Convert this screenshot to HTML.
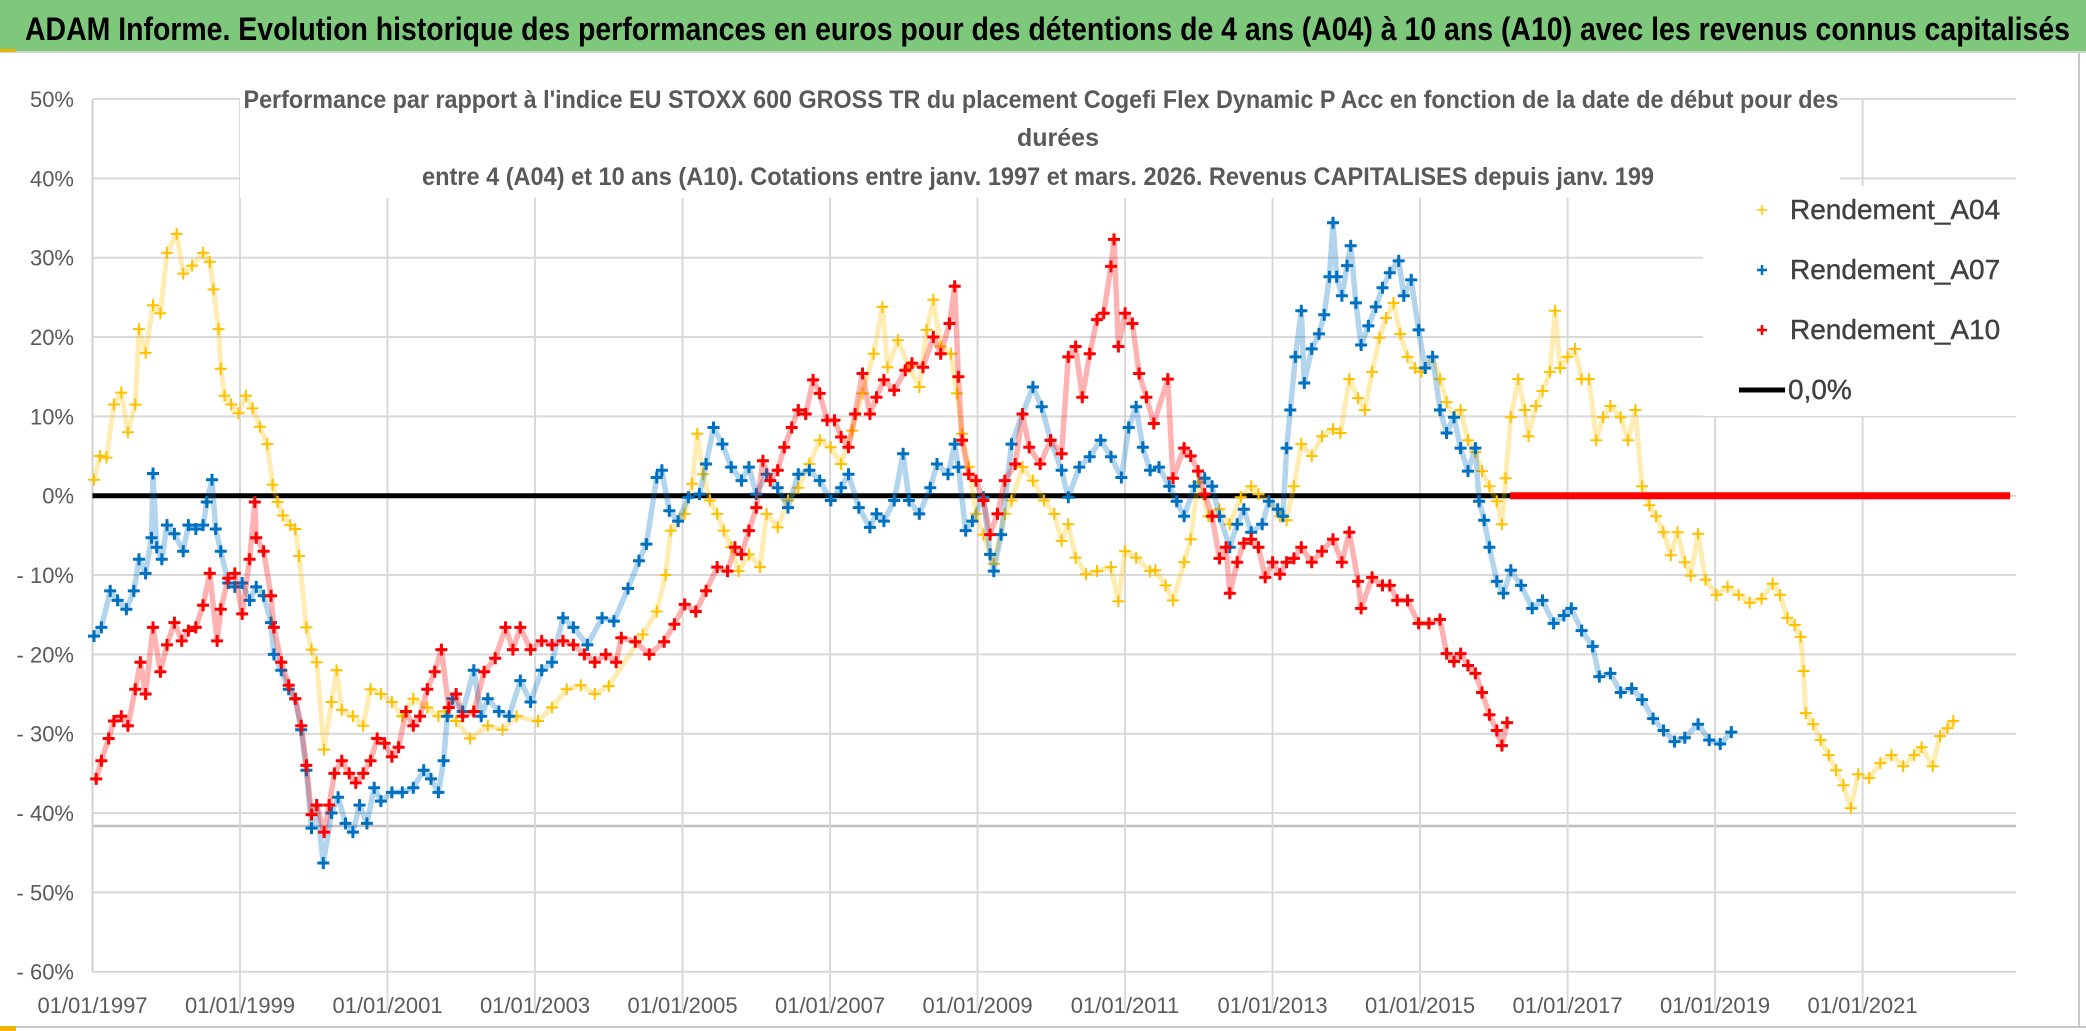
<!DOCTYPE html>
<html><head><meta charset="utf-8"><style>
html,body{margin:0;padding:0;background:#fff;}
svg{display:block;font-family:"Liberation Sans Narrow","Liberation Sans",sans-serif;}
</style></head><body>
<svg id="chart" width="2086" height="1031" viewBox="0 0 2086 1031" xmlns="http://www.w3.org/2000/svg">
<rect x="0" y="0" width="2086" height="1031" fill="#fff"/>
<rect x="0" y="0" width="2086" height="51" fill="#7dc87b"/>
<line x1="0" y1="52" x2="2086" y2="52" stroke="#d0d0d0" stroke-width="2"/>
<rect x="0" y="49" width="16" height="3" fill="#f0b400"/>
<text x="25" y="40" font-size="32" font-weight="bold" fill="#000" textLength="2045" lengthAdjust="spacingAndGlyphs">ADAM Informe. Evolution historique des performances en euros pour des détentions de 4 ans (A04) à 10 ans (A10) avec les revenus connus capitalisés</text>
<g id="grid"></g>
<g id="yaxis"></g>
<g id="xaxis"></g>
<rect x="240" y="62" width="1600" height="136" fill="#fff"/>
<text x="1041" y="108" font-size="25" font-weight="bold" fill="#595959" text-anchor="middle" textLength="1595" lengthAdjust="spacingAndGlyphs">Performance par rapport à l'indice EU STOXX 600 GROSS TR  du placement Cogefi Flex Dynamic P Acc en fonction de la date de début pour des</text>
<text x="1058" y="146" font-size="25" font-weight="bold" fill="#595959" text-anchor="middle">durées</text>
<text x="1038" y="185" font-size="25" font-weight="bold" fill="#595959" text-anchor="middle" textLength="1232" lengthAdjust="spacingAndGlyphs">entre 4 (A04) et 10 ans (A10). Cotations entre janv. 1997 et mars. 2026. Revenus CAPITALISES depuis janv. 199</text>
<g id="series"></g>
<g>
<rect x="1703" y="186" width="313" height="230" fill="#fff"/>
<g><path d="M1757 210h10M1762 205v10" stroke="#ffc000" stroke-width="1.5"/><text x="1790" y="219" font-size="28" fill="#404040" stroke="#404040" stroke-width="0.4">Rendement_A04</text></g>
<g><path d="M1757 270h10M1762 265v10" stroke="#0070c0" stroke-width="2.5"/><text x="1790" y="279" font-size="28" fill="#404040" stroke="#404040" stroke-width="0.4">Rendement_A07</text></g>
<g><path d="M1757 330h10M1762 325v10" stroke="#ff0000" stroke-width="2.5"/><text x="1790" y="339" font-size="28" fill="#404040" stroke="#404040" stroke-width="0.4">Rendement_A10</text></g>
<g><line x1="1739" y1="390" x2="1785" y2="390" stroke="#000" stroke-width="5"/><text x="1788" y="399" font-size="28" fill="#404040" stroke="#404040" stroke-width="0.4">0,0%</text></g>
</g>
<line x1="2079" y1="53" x2="2079" y2="1027" stroke="#c8c8c8" stroke-width="2"/>
<line x1="0" y1="1027" x2="2086" y2="1027" stroke="#c8c8c8" stroke-width="2"/>
<rect x="0" y="1026" width="16" height="5" fill="#f0b400"/>
</svg>
<script>
const yTicks=[50,40,30,20,10,0,-10,-20,-30,-40,-50,-60];
const yTickLabels=["50%","40%","30%","20%","10%","0%","- 10%","- 20%","- 30%","- 40%","- 50%","- 60%"];
const xTickYears=[1997,1999,2001,2003,2005,2007,2009,2011,2013,2015,2017,2019,2021];
const xTickLabels=["01/01/1997","01/01/1999","01/01/2001","01/01/2003","01/01/2005","01/01/2007","01/01/2009","01/01/2011","01/01/2013","01/01/2015","01/01/2017","01/01/2019","01/01/2021"];
const xMinYear=1997, xMaxYear=2023.08;
const zeroLineValue=0;
const a10ZeroRange=[2016.22,2023.0];

const a04Years=[1997.02,1997.10,1997.19,1997.29,1997.39,1997.48,1997.58,1997.63,1997.72,1997.82,1997.92,1998.01,1998.14,1998.23,1998.35,1998.50,1998.59,1998.64,1998.71,1998.74,1998.79,1998.88,1998.98,1999.08,1999.17,1999.27,1999.37,1999.44,1999.51,1999.58,1999.68,1999.75,1999.80,1999.90,1999.97,2000.04,2000.14,2000.24,2000.31,2000.38,2000.53,2000.67,2000.77,2000.91,2001.06,2001.20,2001.35,2001.54,2001.69,2001.78,2001.93,2002.12,2002.36,2002.56,2002.75,2003.04,2003.23,2003.43,2003.62,2003.81,2004.00,
2004.46,2004.65,2004.77,2004.84,2005.03,2005.13,2005.20,2005.28,2005.37,2005.47,2005.56,2005.66,2005.76,2005.90,2006.05,2006.14,2006.29,2006.43,2006.57,2006.72,2006.86,2007.01,2007.15,2007.30,2007.44,2007.59,2007.71,2007.78,2007.92,2008.07,2008.21,2008.31,2008.40,2008.50,2008.64,2008.72,2008.79,2008.88,2008.98,2009.08,2009.22,2009.37,2009.46,2009.61,2009.75,2009.90,2010.04,2010.14,2010.23,2010.33,2010.47,2010.62,2010.81,2010.91,2011.00,2011.15,2011.34,
2011.41,2011.55,2011.65,2011.80,2011.89,2011.99,2012.13,2012.28,2012.42,2012.57,2012.71,2012.81,2012.95,2013.10,2013.19,2013.29,2013.39,2013.53,2013.67,2013.82,2013.92,2014.04,2014.16,2014.25,2014.35,2014.45,2014.54,2014.64,2014.73,2014.83,2014.93,2015.02,2015.17,2015.27,2015.36,2015.46,2015.55,2015.65,2015.75,2015.84,2015.94,2016.04,2016.11,2016.16,2016.23,2016.33,2016.42,2016.47,2016.57,2016.66,2016.76,2016.83,2016.90,2017.00,2017.10,2017.19,2017.29,2017.39,2017.48,2017.58,2017.72,2017.82,2017.92,2018.01,2018.11,2018.20,2018.30,2018.40,2018.49,2018.59,
2018.67,2018.77,2018.87,2019.02,2019.17,2019.32,2019.47,2019.63,2019.78,2019.88,2019.98,2020.08,2020.16,2020.20,2020.23,2020.33,2020.43,2020.54,2020.64,2020.74,2020.84,2020.94,2021.09,2021.24,2021.39,2021.55,2021.70,2021.80,2021.95,2022.05,2022.15,2022.23];
const a04Values=[2,5,4.8,11.5,13,8,11.5,21,18,24,23,30.6,33,28,29,30.6,29.5,26,21,16,12.6,11.5,10.4,12.6,11,8.7,6.5,1.4,-0.8,-2.5,-3.7,-4.2,-7.6,-16.6,-19.4,-21,-32,-26,-22,-27,-27.8,-29,-24.4,-25,-26,-27.8,-25.6,-26.7,-27.8,-27.2,-28.4,-30.6,-29,-29.5,-27.8,-28.4,-26.7,-24.4,-23.9,-25,-24,
-17.5,-14.6,-10,-4.4,-2.3,1.5,7.8,2.7,-0.6,-2.3,-4.4,-6.5,-9.5,-7.4,-9,-2.3,-4,-0.6,1,4,7,6.1,4,8.2,12.9,17.9,23.8,16.2,19.6,16.2,13.7,20.9,24.7,18.8,17.9,12.9,7.8,3.6,-2.3,-4.9,-8.6,-2.3,-0.6,3.6,1.9,-0.6,-2.3,-5.7,-3.6,-7.8,-9.9,-9.5,-9,-13.3,-7,-7.8,-9.5,
-9.4,-11.3,-13.2,-8.4,-5.5,1.7,-2.6,-1.7,-3.6,-0.2,1.2,0.2,-0.7,-2.6,-3.1,1.2,6.5,5,7.5,8.4,7.9,14.7,12.3,10.8,15.6,19.9,22.4,24.3,20.4,17.5,16.1,15.6,17.5,14.7,11.8,9.9,10.8,7,5.5,3.1,1.2,-0.7,-3.6,2.2,9.9,14.7,10.8,7.5,11.3,13.2,15.6,23.3,16.1,17.5,18.5,14.7,14.7,7,9.9,11.3,9.9,7,10.8,1.2,-1.2,-2.6,-4.6,-7.5,-4.6,-8.4,
-10.1,-4.8,-10.6,-12.5,-11.5,-12.5,-13.5,-13,-11.1,-12.5,-15.4,-16.3,-17.8,-22.1,-27.4,-28.8,-30.8,-32.7,-34.6,-36.5,-39.4,-35.1,-35.6,-33.7,-32.7,-34.1,-32.7,-31.7,-34.1,-30.3,-29.3,-28.4];

const a07Years=[1997.02,1997.12,1997.24,1997.34,1997.46,1997.56,1997.63,1997.72,1997.80,1997.82,1997.87,1997.94,1998.01,1998.11,1998.23,1998.30,1998.40,1998.50,1998.55,1998.62,1998.67,1998.74,1998.84,1998.93,1999.03,1999.13,1999.22,1999.32,1999.42,1999.46,1999.56,1999.66,1999.75,1999.83,1999.90,1999.97,2000.04,2000.13,2000.24,2000.33,2000.43,2000.53,2000.62,2000.72,2000.82,2000.91,2001.06,2001.20,2001.35,2001.49,2001.59,2001.69,2001.76,2001.81,2001.88,2002.02,2002.17,2002.27,2002.36,2002.51,2002.65,2002.80,2002.94,2003.09,2003.23,2003.38,2003.52,2003.71,2003.91,
2004.07,2004.26,2004.41,2004.51,2004.65,2004.72,2004.82,2004.94,2005.08,2005.23,2005.32,2005.42,2005.54,2005.66,2005.80,2005.90,2006.00,2006.14,2006.29,2006.43,2006.57,2006.72,2006.86,2007.01,2007.15,2007.25,2007.39,2007.54,2007.63,2007.73,2007.87,2007.99,2008.07,2008.21,2008.36,2008.45,2008.60,2008.69,2008.74,2008.84,2008.93,2009.08,2009.17,2009.22,2009.32,2009.46,2009.61,2009.75,2009.87,2009.99,2010.14,2010.23,2010.38,2010.52,2010.67,2010.81,2010.95,2011.05,2011.15,2011.24,2011.34,
2011.46,2011.60,2011.70,2011.80,2011.94,2012.08,2012.18,2012.28,2012.42,2012.52,2012.61,2012.71,2012.86,2012.95,2013.07,2013.14,2013.19,2013.24,2013.31,2013.39,2013.43,2013.53,2013.63,2013.70,2013.77,2013.82,2013.87,2013.94,2014.01,2014.06,2014.13,2014.20,2014.30,2014.40,2014.49,2014.59,2014.71,2014.78,2014.88,2014.98,2015.07,2015.17,2015.27,2015.36,2015.46,2015.55,2015.65,2015.75,2015.80,2015.87,2015.94,2016.04,2016.13,2016.23,2016.37,2016.52,2016.66,2016.81,2016.95,2017.05,2017.19,2017.34,2017.43,2017.58,2017.72,2017.87,2018.01,2018.16,2018.30,2018.45,2018.59,2018.77,2018.92,2019.07,2019.22];
const a07Values=[-17.7,-16.6,-12,-13.2,-14.3,-12,-8,-9.8,-5.3,2.8,-6.5,-8,-3.7,-4.8,-7,-3.7,-4.2,-3.7,-0.8,2,-4.2,-7,-11,-11.5,-11,-13.2,-11.5,-12.6,-16,-20,-22,-24.4,-25.6,-29.5,-34.6,-41.9,-39,-46.3,-40,-38,-41.3,-42.4,-39,-41.3,-36.8,-38.5,-37.4,-37.4,-36.8,-34.6,-35.7,-37.4,-33.4,-27.8,-25.6,-27.2,-22,-27.8,-25.6,-27.2,-27.8,-23.3,-26,-22,-21,-15.4,-16.6,-18.8,-15.4,
-15.8,-11.7,-8.2,-6.1,2.3,3.2,-1.9,-3.2,-0.2,0.2,4,8.6,6.5,3.6,1.9,3.6,0.2,2.7,1,-1.5,2.7,3.2,1.9,-0.6,1,2.7,-1.5,-4,-2.3,-3.2,-0.6,5.3,-0.6,-2.3,1,4,2.7,6.5,3.6,-4.4,-3.2,-0.2,-7.4,-9.5,-4.9,6.5,10.3,13.7,11.2,7,3.2,-0.2,3.6,4.9,7,4.9,2.3,8.6,11.2,6.1,3.2,
3.6,1.2,-0.7,-2.6,1.2,2.2,1.2,-2.6,-6.5,-3.6,-1.7,-4.6,-3.6,-0.7,-1.7,-2.6,6,10.8,17.5,23.3,14.2,18.5,20.4,22.8,27.6,34.4,27.6,25.2,29,31.5,24.3,19,21.4,23.8,26.2,28.1,29.6,25.2,27.2,20.9,16.1,17.5,10.8,7.9,9.9,6,3.1,6,-0.7,-3.1,-6.5,-10.8,-12.3,-9.4,-11.3,-14.2,-13.2,-16.1,-15.1,-14.2,-17,-19,-22.8,-22.4,-24.8,-24.3,-25.7,-28.1,-29.6,-31,-30.5,-28.8,-30.8,-31.3,-29.8];

const a10Years=[1997.05,1997.12,1997.22,1997.29,1997.39,1997.48,1997.58,1997.65,1997.72,1997.82,1997.92,1998.01,1998.11,1998.21,1998.30,1998.40,1998.50,1998.59,1998.69,1998.74,1998.84,1998.93,1999.03,1999.13,1999.20,1999.22,1999.32,1999.42,1999.46,1999.56,1999.66,1999.75,1999.83,1999.90,1999.97,2000.04,2000.14,2000.21,2000.28,2000.38,2000.48,2000.57,2000.67,2000.77,2000.86,2000.96,2001.06,2001.15,2001.25,2001.35,2001.44,2001.54,2001.64,2001.73,2001.83,2001.93,2002.02,2002.17,2002.31,2002.46,2002.60,2002.70,2002.80,2002.94,2003.09,2003.23,2003.38,2003.52,2003.67,2003.81,2003.96,2004.10,
2004.17,2004.36,2004.55,2004.75,2004.89,2005.03,2005.18,2005.32,2005.47,2005.61,2005.71,2005.80,2005.90,2006.00,2006.09,2006.19,2006.29,2006.38,2006.48,2006.57,2006.67,2006.77,2006.86,2006.96,2007.06,2007.15,2007.25,2007.34,2007.44,2007.54,2007.63,2007.73,2007.87,2008.02,2008.11,2008.26,2008.40,2008.50,2008.62,2008.69,2008.74,2008.79,2008.88,2008.98,2009.08,2009.17,2009.27,2009.37,2009.51,2009.61,2009.70,2009.85,2009.99,2010.14,2010.23,2010.33,2010.42,2010.52,2010.62,2010.71,2010.81,2010.85,2010.91,2011.00,2011.10,2011.19,2011.29,2011.39,
2011.58,2011.65,2011.80,2011.89,2011.99,2012.08,2012.18,2012.28,2012.37,2012.42,2012.52,2012.61,2012.71,2012.81,2012.90,2013.00,2013.10,2013.19,2013.29,2013.39,2013.53,2013.67,2013.82,2013.94,2014.04,2014.16,2014.20,2014.35,2014.49,2014.59,2014.69,2014.83,2014.98,2015.12,2015.27,2015.36,2015.46,2015.55,2015.65,2015.75,2015.84,2015.94,2016.04,2016.11,2016.18];
const a10Values=[-35.7,-33.4,-30.6,-28.4,-27.8,-29,-24.4,-21,-25,-16.6,-22.2,-18.8,-16,-18.3,-17,-16.6,-13.8,-9.8,-18.3,-14.3,-10.4,-9.8,-14.9,-8,-0.8,-5.3,-7,-12.6,-16.6,-21,-23.9,-25.6,-29,-34,-40.2,-39,-42.4,-39,-35,-33.4,-35,-36.2,-35,-33.4,-30.6,-31.2,-32.9,-31.7,-27.2,-29,-27.8,-24.4,-22.2,-19.4,-26.7,-25,-27.8,-27.2,-22.2,-20.5,-16.6,-19.4,-16.6,-19.4,-18.3,-18.8,-18.3,-18.8,-20,-21,-20,-21,
-17.9,-18.4,-20,-18.4,-16.2,-13.7,-14.6,-12,-9,-9.5,-6.5,-7.4,-4.4,-1.5,4.4,1.9,3.2,6.1,8.6,10.8,10.3,14.6,12.9,9.5,9.5,7.4,6.1,10.3,15.4,10.3,12.4,14.6,13.3,15.8,16.7,16.2,20,17.9,21.7,26.4,15,7,2.7,1.9,-0.6,-4.9,-2.3,1.9,4,10.3,6.1,4,7,5.3,17.5,18.8,12.4,17.9,22.2,23,28.9,32.3,18.8,23,21.7,15.4,12.4,9.1,
14.7,2.2,6,5,3.1,0.2,-2.6,-7.9,-6.5,-12.3,-8.4,-6,-5.5,-6.5,-10.3,-8.4,-9.9,-8.4,-7.9,-6.5,-8.4,-7,-5.5,-8.4,-4.6,-10.8,-14.2,-10.3,-11.3,-11.3,-13.2,-13.2,-16.1,-16.1,-15.6,-19.9,-20.9,-19.9,-21.4,-22.4,-24.8,-27.6,-29.6,-31.5,-28.6];

const NS="http://www.w3.org/2000/svg";
const plotLeft=92.5, plotRight=2016, yTop=99.3, yBottom=972;
function xScale(yr){return plotLeft+(yr-xMinYear)*(plotRight-plotLeft)/(xMaxYear-xMinYear);}
function yScale(p){return 495.7-p*(yBottom-yTop)/110;}
function mk(tag,attrs,parent){const e=document.createElementNS(NS,tag);for(const k in attrs)e.setAttribute(k,attrs[k]);parent.appendChild(e);return e;}

const grid=document.getElementById('grid');
yTicks.forEach((t,i)=>{
  const y=yScale(t);
  const l=mk('line',{x1:plotLeft,y1:y,x2:plotRight,y2:y,stroke:'#d9d9d9','stroke-width':2},grid);
  
  
  const tx=mk('text',{x:74,y:y+8,'font-size':22,fill:'#595959','text-anchor':'end'},document.getElementById('yaxis'));
  tx.textContent=yTickLabels[i];
  
  
});
const extra=mk('line',{x1:plotLeft,y1:826,x2:plotRight,y2:826,stroke:'#bfbfbf','stroke-width':2.5},grid);


mk('line',{x1:plotLeft,y1:yTop,x2:plotLeft,y2:yBottom,stroke:'#d0d0d0','stroke-width':2},grid);
xTickYears.forEach((yr,i)=>{
  const x=xScale(yr);
  if(i>0){
    const l=mk('line',{x1:x,y1:yTop,x2:x,y2:1010,stroke:'#d9d9d9','stroke-width':2},grid);
    
    
  }
  const tx=mk('text',{x:x,y:1013,'font-size':22,fill:'#595959','text-anchor':'middle'},document.getElementById('xaxis'));
  tx.textContent=xTickLabels[i];
  
  
});

const sg=document.getElementById('series');
const zl=mk('line',{x1:xScale(xMinYear),y1:yScale(zeroLineValue),x2:xScale(a10ZeroRange[1]),y2:yScale(zeroLineValue),stroke:'#000','stroke-width':5},sg);



function drawSeries(years,vals,color,sw,bandW,name){
  const g=mk('g',{stroke:color,fill:'none'},sg);
  
  
  let pts='';
  for(let i=0;i<years.length;i++){pts+=xScale(years[i]).toFixed(1)+','+yScale(vals[i]).toFixed(1)+' ';}
  const band=mk('polyline',{points:pts,'stroke-width':bandW,'stroke-opacity':0.3,'stroke-linejoin':'round','stroke-linecap':'round'},g);
  
  
  let d='';
  for(let i=0;i<years.length;i++){
    const x=xScale(years[i]),y=yScale(vals[i]);
    d+=`M${(x-6).toFixed(1)} ${y.toFixed(1)}h12M${x.toFixed(1)} ${(y-6).toFixed(1)}v12`;
  }
  const p=mk('path',{d:d,'stroke-width':sw},g);
  
  
}
drawSeries(a04Years,a04Values,'#ffc000',2,5,'series-a04');
drawSeries(a07Years,a07Values,'#0070c0',3,5.5,'series-a07');
drawSeries(a10Years,a10Values,'#ff0000',3,5.5,'series-a10');
const rz=mk('line',{x1:xScale(a10ZeroRange[0]),y1:yScale(0),x2:xScale(a10ZeroRange[1]),y2:yScale(0),stroke:'#ff0000','stroke-width':7},sg);


</script>
</body></html>
